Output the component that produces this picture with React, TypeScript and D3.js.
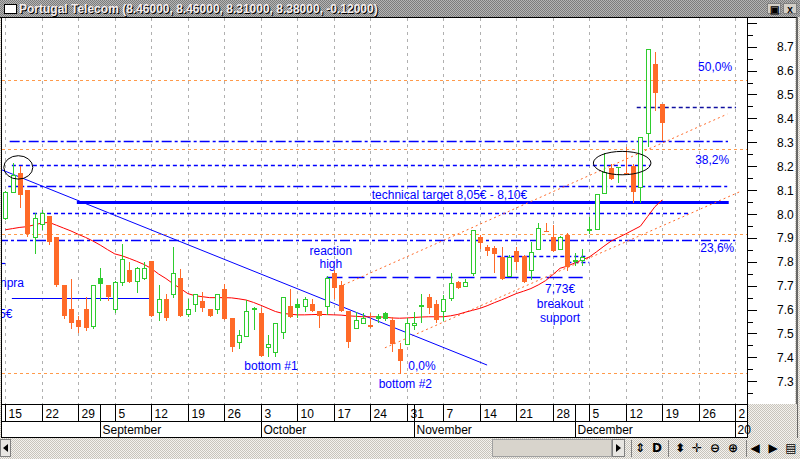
import * as d3 from 'd3';

// daily candles, 15 Aug 2005 .. 19 Dec 2005 (one entry per trading day)
const opens = [7.982, 8.091, 8.17, 8.1, 7.903, 7.958, 7.99, 7.904, 7.703, 7.603, 7.556, 7.603, 7.533, 7.731, 7.703, 7.601, 7.714, 7.766, 7.721, 7.731,
  7.803, 7.59, 7.644, 7.664, 7.731, 7.583, 7.622, 7.636, 7.603, 7.603, 7.686, 7.564, 7.463, 7.49, 7.606, 7.587, 7.445, 7.424, 7.505, 7.615,
  7.623, 7.615, 7.623, 7.594, 7.615, 7.754, 7.703, 7.595, 7.522, 7.543, 7.536, 7.575, 7.585, 7.556, 7.435, 7.456, 7.535, 7.617, 7.652, 7.622,
  7.593, 7.65, 7.714, 7.7, 7.752, 7.905, 7.863, 7.856, 7.821, 7.741, 7.845, 7.824, 7.766, 7.852, 7.93, 7.903, 7.852, 7.912, 7.805, 7.807,
  7.935, 7.937, 8.089, 8.191, 8.195, 8.172, 8.201, 8.114, 8.338, 8.628, 8.46];
const highs = [8.095, 8.212, 8.2, 8.1, 8.003, 8.015, 7.99, 7.904, 7.703, 7.73, 7.573, 7.654, 7.703, 7.773, 7.703, 7.72, 7.873, 7.8, 7.78, 7.8,
  7.803, 7.703, 7.664, 7.863, 7.77, 7.644, 7.664, 7.672, 7.603, 7.664, 7.706, 7.564, 7.515, 7.64, 7.61, 7.608, 7.494, 7.543, 7.651, 7.686,
  7.643, 7.654, 7.643, 7.594, 7.741, 7.766, 7.72, 7.595, 7.591, 7.584, 7.584, 7.58, 7.59, 7.57, 7.459, 7.563, 7.591, 7.664, 7.664, 7.64,
  7.661, 7.752, 7.72, 7.73, 7.933, 7.912, 7.87, 7.865, 7.863, 7.83, 7.863, 7.83, 7.884, 7.964, 7.964, 7.954, 7.91, 7.922, 7.835, 7.852,
  7.989, 8.084, 8.254, 8.209, 8.195, 8.279, 8.21, 8.321, 8.689, 8.679, 8.46];
const lows = [7.98, 8.091, 8.03, 7.91, 7.836, 7.936, 7.874, 7.7, 7.566, 7.524, 7.508, 7.515, 7.524, 7.64, 7.64, 7.59, 7.703, 7.717, 7.675, 7.73,
  7.574, 7.556, 7.556, 7.654, 7.574, 7.574, 7.594, 7.594, 7.574, 7.584, 7.56, 7.427, 7.438, 7.49, 7.52, 7.407, 7.406, 7.406, 7.48, 7.568,
  7.568, 7.596, 7.595, 7.526, 7.582, 7.647, 7.595, 7.445, 7.522, 7.543, 7.526, 7.55, 7.555, 7.428, 7.335, 7.456, 7.52, 7.547, 7.587, 7.55,
  7.556, 7.64, 7.689, 7.7, 7.745, 7.856, 7.828, 7.759, 7.727, 7.741, 7.77, 7.717, 7.727, 7.852, 7.928, 7.847, 7.852, 7.766, 7.785, 7.787,
  7.919, 7.937, 8.089, 8.145, 8.135, 8.172, 8.05, 8.05, 8.285, 8.435, 8.31];
const closes = [8.093, 8.163, 8.08, 7.915, 7.982, 8.003, 7.884, 7.703, 7.574, 7.545, 7.526, 7.524, 7.703, 7.706, 7.654, 7.714, 7.81, 7.717, 7.773, 7.776,
  7.574, 7.644, 7.566, 7.752, 7.574, 7.603, 7.664, 7.605, 7.574, 7.664, 7.56, 7.445, 7.494, 7.594, 7.608, 7.407, 7.456, 7.543, 7.651, 7.568,
  7.605, 7.643, 7.595, 7.573, 7.731, 7.689, 7.595, 7.466, 7.556, 7.564, 7.526, 7.56, 7.562, 7.456, 7.386, 7.543, 7.546, 7.619, 7.606, 7.556,
  7.644, 7.713, 7.689, 7.714, 7.933, 7.877, 7.847, 7.833, 7.727, 7.821, 7.798, 7.717, 7.842, 7.94, 7.928, 7.847, 7.903, 7.777, 7.807, 7.821,
  7.937, 8.084, 8.177, 8.145, 8.195, 8.172, 8.093, 8.321, 8.689, 8.505, 8.38];
// moving average (red line)
const maValues = [7.934, 7.939, 7.944, 7.947, 7.955, 7.962, 7.965, 7.953, 7.941, 7.929, 7.915, 7.902, 7.887, 7.87, 7.851, 7.833, 7.825, 7.814, 7.802, 7.789,
  7.772, 7.749, 7.73, 7.708, 7.688, 7.667, 7.658, 7.654, 7.65, 7.65, 7.65, 7.649, 7.645, 7.64, 7.63, 7.618, 7.605, 7.592, 7.584, 7.581,
  7.578, 7.578, 7.579, 7.58, 7.579, 7.578, 7.577, 7.574, 7.572, 7.57, 7.57, 7.57, 7.568, 7.565, 7.564, 7.565, 7.567, 7.569, 7.57, 7.57,
  7.57, 7.574, 7.58, 7.589, 7.597, 7.605, 7.616, 7.629, 7.641, 7.654, 7.667, 7.677, 7.688, 7.703, 7.721, 7.746, 7.773, 7.782, 7.795, 7.808,
  7.82, 7.842, 7.865, 7.887, 7.902, 7.917, 7.933, 7.949, 7.99, 8.031, 8.059];

const dayLabels = ['15', '22', '29', '5', '12', '19', '26', '3', '10', '17', '24', '31', '7', '14', '21', '28', '5', '12', '19', '26', '2'];
const dayIndex = [0, 5, 10, 15, 20, 25, 30, 35, 40, 45, 50, 55, 60, 65, 70, 75, 80, 85, 90, 95, 100];
const monthLabels = ['September', 'October', 'November', 'December', '20'];
const monthIndex = [13, 35, 56, 78, 100];
const priceLabels = ['7.3', '7.4', '7.5', '7.6', '7.7', '7.8', '7.9', '8.0', '8.1', '8.2', '8.3', '8.4', '8.5', '8.6', '8.7'];

// fibonacci retracement levels
const fibValues = [7.335, 7.915, 8.27, 8.56];

// drawn study lines: [value, fromIndex, toIndex, kind]
const levelLines: [number, number, number, string][] = [
  [8.305, 0.6, 99, 'dashdot'],
  [8.204, 0.9, 88.3, 'short'],
  [8.117, 0.4, 98.9, 'dashdot'],
  [8.05, 9.8, 99.1, 'thick'],
  [8.003, 3.8, 93.8, 'short'],
  [7.89, -1, 100, 'dashdot'],
  [7.735, 44, 79.1, 'long'],
  [7.824, 67.4, 79.8, 'short'],
  [7.8, 77, 80, 'short'],
  [8.446, 86.5, 100.1, 'dark'],
  [7.648, 0.9, 20, 'solid'],
  [7.795, -1, 0, 'solid'],
];
// trend lines: [i1, v1, i2, v2]
const downTrend = [-0.5, 8.185, 66, 7.368];
const channelUpper = [46.3, 7.703, 98.9, 8.418];
const channelLower = [52, 7.44, 100.9, 8.097];

// the two left notes are only partly visible at the chart's left edge
const notes: [string, number, number, string][] = [
  ['technical target 8,05€ - 8,10€', 50.2, 8.063, 'start'],
  ['reaction', 44.6, 7.828, 'middle'],
  ['high', 44.6, 7.774, 'middle'],
  ['bottom #1', 36.4, 7.347, 'middle'],
  ['0,0%', 55.2, 7.347, 'start'],
  ['bottom #2', 54.8, 7.272, 'middle'],
  ['7,73€', 76.0, 7.669, 'middle'],
  ['breakout', 76.0, 7.607, 'middle'],
  ['support', 76.0, 7.548, 'middle'],
  ['50,0%', 94.9, 8.598, 'start'],
  ['38,2%', 94.5, 8.209, 'start'],
  ['23,6%', 95.2, 7.841, 'start'],
  ['npra', 2.56, 7.695, 'end'],
  ['5€', 0.96, 7.565, 'end'],
];
const circles: [number, number, number, number][] = [
  [1.78, 8.195, 14.5, 11.7],
  [84.5, 8.213, 28.8, 11.7],
];

const W = 800;
const H = 459;
const plot = { left: 2, right: 747, top: 18, bottom: 404 };
const GREEN = '#2ecc2e';
const ORANGE = '#ff6a28';
const BLUE = '#0000ff';
const FONT = 'Liberation Sans, Arial, sans-serif';

const x = d3.scaleLinear().domain([0, 100]).range([5.3, 735.3]);
const y = d3.scaleLinear().domain([7.3, 8.7]).range([381.3, 46.7]);

const dashes: Record<string, string> = {
  dashdot: '10,3,3,3',
  short: '4,3',
  long: '16,6',
  dark: '4,3',
  thick: '',
  solid: '',
};

function Candle({ i }: { i: number }) {
  const o = opens[i], c = closes[i], h = highs[i], l = lows[i];
  const prev = i > 0 ? closes[i - 1] : o;
  const up = c >= prev;
  const color = up ? GREEN : ORANGE;
  const hollow = c > o;
  const cx = Math.round(x(i)) + 0.5;
  const top = Math.round(y(Math.max(o, c)));
  const bot = Math.round(y(Math.min(o, c)));
  return (
    <g>
      <line x1={cx} x2={cx} y1={Math.round(y(h))} y2={Math.round(y(l)) + 1} stroke={color} strokeWidth={1} />
      {hollow ? (
        <rect x={cx - 2} y={top + 0.5} width={4} height={Math.max(bot - top, 1)} fill="#fff" stroke={color} strokeWidth={1} />
      ) : (
        <rect x={cx - 2.5} y={top} width={5} height={Math.max(bot - top, 1)} fill={color} />
      )}
    </g>
  );
}

export default function App() {
  const idx = d3.range(opens.length);
  const maLine = d3.line<number>().x((i) => x(i)).y((i) => y(maValues[i]))(idx) ?? '';
  const ticks = d3.range(145, 178).map((k) => k / 20).filter((v) => y(v) > plot.top && y(v) < plot.bottom);
  const seg = (a: number[]) => ({ x1: x(a[0]), y1: y(a[1]), x2: x(a[2]), y2: y(a[3]) });

  return (
    <svg width={W} height={H} style={{ display: 'block', position: 'absolute', left: 0, top: 0 }} fontFamily={FONT}>
      <defs>
        <pattern id="dither" width={2} height={2} patternUnits="userSpaceOnUse">
          <rect width={2} height={2} fill="#b4b4b4" />
          <rect width={1} height={1} fill="#7c7c7c" />
          <rect x={1} y={1} width={1} height={1} fill="#7c7c7c" />
        </pattern>
        <pattern id="light" width={2} height={2} patternUnits="userSpaceOnUse">
          <rect width={2} height={2} fill="#f4f2ee" />
          <rect width={1} height={1} fill="#c8c4bc" />
          <rect x={1} y={1} width={1} height={1} fill="#c8c4bc" />
        </pattern>
        <clipPath id="plotClip">
          <rect x={plot.left} y={plot.top} width={plot.right - plot.left} height={plot.bottom - plot.top} />
        </clipPath>
      </defs>

      <rect width={W} height={H} fill="url(#light)" />

      {/* title bar */}
      <rect x={0} y={0} width={W} height={17} fill="url(#dither)" />
      <rect x={4.5} y={4.5} width={12} height={9} fill="#fff" stroke="#000" />
      <text x={20} y={14} fontSize={12} fontWeight="bold" fill="#000">Portugal Telecom (8.46000, 8.46000, 8.31000, 8.38000, -0.12000)</text>
      <text x={19} y={13} fontSize={12} fontWeight="bold" fill="#f4eeee">Portugal Telecom (8.46000, 8.46000, 8.31000, 8.38000, -0.12000)</text>
      {[767, 783].map((bx, k) => (
        <g key={k}>
          <rect x={bx + 0.5} y={3.5} width={13} height={10} fill="#d4d0c8" stroke="#808080" />
          <text x={bx + 7} y={12.5} fontSize={10} fontWeight="bold" textAnchor="middle" fill="#000">{k === 0 ? '▣' : 'x'}</text>
        </g>
      ))}

      {/* plot + axis background */}
      <rect x={plot.left} y={17} width={795 - plot.left} height={plot.bottom - 17} fill="#fff" />
      <line x1={0} x2={797} y1={17.5} y2={17.5} stroke="#000" />
      <line x1={1.5} x2={1.5} y1={17} y2={438} stroke="#000" />
      <line x1={797} x2={797} y1={17} y2={438} stroke="#404040" strokeWidth={1.5} />

      <g clipPath="url(#plotClip)">
        {dayIndex.map((d) => (
          <line key={d} x1={Math.round(x(d)) + 0.5} x2={Math.round(x(d)) + 0.5} y1={plot.top} y2={plot.bottom} stroke="#b0b0b0" strokeDasharray="3,4" />
        ))}
        {fibValues.map((v) => (
          <line key={v} x1={plot.left} x2={plot.right} y1={Math.round(y(v)) + 0.5} y2={Math.round(y(v)) + 0.5} stroke="#ff9a4a" strokeDasharray="3,3" />
        ))}
        {levelLines.map(([v, a, b, kind], k) => (
          <line key={k} x1={x(a)} x2={x(b)} y1={Math.round(y(v)) + 0.5} y2={Math.round(y(v)) + 0.5}
            stroke={kind === 'dark' ? '#1010a0' : BLUE} strokeWidth={kind === 'thick' ? 3 : kind === 'solid' ? 1.2 : 1.5}
            strokeDasharray={dashes[kind]} />
        ))}
        <line {...seg(channelUpper)} stroke={ORANGE} strokeWidth={1} strokeDasharray="2,3" />
        <line {...seg(channelLower)} stroke={ORANGE} strokeWidth={1} strokeDasharray="2,3" />
        <line {...seg(downTrend)} stroke={BLUE} strokeWidth={1} />
        <path d={maLine} fill="none" stroke="#ff0000" strokeWidth={1} />
        {idx.map((i) => <Candle key={i} i={i} />)}
        {circles.map(([i, v, rx, ry], k) => (
          <ellipse key={k} cx={x(i)} cy={y(v)} rx={rx} ry={ry} fill="none" stroke="#000" strokeWidth={1} />
        ))}
        {notes.map(([t, i, v, anchor], k) => (
          <text key={k} x={x(i)} y={y(v)} fontSize={12} fill={BLUE} textAnchor={anchor}>{t}</text>
        ))}
      </g>

      {/* right price axis */}
      <line x1={747.5} x2={747.5} y1={17} y2={plot.bottom} stroke="#000" />
      {ticks.map((v) => {
        const major = Math.abs(v * 10 - Math.round(v * 10)) < 1e-6;
        const ty = Math.round(y(v)) + 0.5;
        return <line key={v} x1={747} x2={major ? 757 : 753} y1={ty} y2={ty} stroke="#000" />;
      })}
      {priceLabels.map((t) => (
        <text key={t} x={777} y={y(+t) + 4.5} fontSize={12} fill="#000">{t}</text>
      ))}

      {/* date axis */}
      <rect x={2} y={plot.bottom} width={745} height={33} fill="#fff" />
      <rect x={747} y={plot.bottom} width={50} height={34} fill="url(#light)" />
      <line x1={2} x2={747} y1={plot.bottom + 0.5} y2={plot.bottom + 0.5} stroke="#000" />
      <line x1={2} x2={747} y1={421.5} y2={421.5} stroke="#000" />
      <line x1={2} x2={747} y1={437.5} y2={437.5} stroke="#000" />
      <line x1={747.5} x2={747.5} y1={plot.bottom} y2={438} stroke="#000" />
      {dayIndex.map((d, k) => {
        const px = Math.round(x(d)) + 0.5;
        return (
          <g key={k}>
            <line x1={px} x2={px} y1={plot.bottom} y2={421} stroke="#000" />
            <text x={px + 3} y={418} fontSize={12} fill="#000">{dayLabels[k]}</text>
          </g>
        );
      })}
      {monthIndex.map((m, k) => {
        const px = Math.round(x(m)) + 0.5;
        return (
          <g key={k}>
            <line x1={px} x2={px} y1={plot.bottom} y2={437} stroke="#000" />
            <text x={px + 2} y={434} fontSize={12} fill="#000">{monthLabels[k]}</text>
          </g>
        );
      })}

      {/* scroll bar and toolbar */}
      <rect x={0} y={438} width={W} height={21} fill="url(#light)" />
      <rect x={0.5} y={439.5} width={10} height={17} fill="#e8e6e2" stroke="#808080" />
      <path d="M3,448 L8,444 L8,452 Z" fill="#000" />
      <rect x={492.5} y={439.5} width={119} height={17} fill="#d8d4cc" stroke="#a0a0a0" />
      <rect x={612.5} y={439.5} width={12} height={17} fill="#e8e6e2" stroke="#808080" />
      <path d="M616,444 L621,448 L616,452 Z" fill="#000" />
      {['⇕', 'D', '⬍', '✛', '⊖', '⊕', '◀', '▶', '▤'].map((g, k) => (
        <text key={k} x={[640, 657, 680, 697, 715, 733, 755, 773, 791][k]} y={452} fontSize={12} fontWeight="bold"
          textAnchor="middle" fill="#000" fontFamily="DejaVu Sans, sans-serif">{g}</text>
      ))}
      {[631, 668, 746].map((sx) => (
        <line key={sx} x1={sx + 0.5} x2={sx + 0.5} y1={440} y2={457} stroke="#808080" />
      ))}
    </svg>
  );
}
